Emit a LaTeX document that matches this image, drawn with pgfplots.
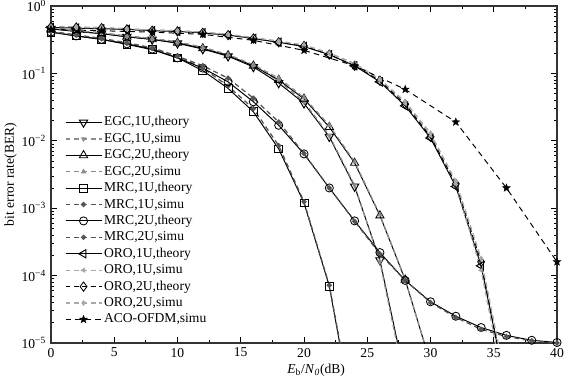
\documentclass[border=0pt]{standalone}
\usepackage{fontspec}
\setmainfont{Liberation Serif}
\usepackage{pgfplots}
\pgfplotsset{compat=1.18}
\usetikzlibrary{plotmarks}
\definecolor{egcgray}{gray}{0.55}
\definecolor{mrcgray}{gray}{0.33}
\definecolor{orogray}{gray}{0.66}
\pgfdeclareplotmark{fivestar}{%
  \pgfpathmoveto{\pgfpointpolar{90}{\pgfplotmarksize}}%
  \pgfpathlineto{\pgfpointpolar{126}{0.42\pgfplotmarksize}}%
  \pgfpathlineto{\pgfpointpolar{162}{\pgfplotmarksize}}%
  \pgfpathlineto{\pgfpointpolar{198}{0.42\pgfplotmarksize}}%
  \pgfpathlineto{\pgfpointpolar{234}{\pgfplotmarksize}}%
  \pgfpathlineto{\pgfpointpolar{270}{0.42\pgfplotmarksize}}%
  \pgfpathlineto{\pgfpointpolar{306}{\pgfplotmarksize}}%
  \pgfpathlineto{\pgfpointpolar{342}{0.42\pgfplotmarksize}}%
  \pgfpathlineto{\pgfpointpolar{18}{\pgfplotmarksize}}%
  \pgfpathlineto{\pgfpointpolar{54}{0.42\pgfplotmarksize}}%
  \pgfpathclose\pgfusepathqfillstroke}
\begin{document}
\begin{tikzpicture}[font=\fontsize{9.7}{11.7}\selectfont]
\begin{axis}[
  scale only axis, width=361.4pt, height=240.7pt,
  at={(0,0)}, anchor=south west,
  xmin=0, xmax=40, ymode=log, ymin=1e-5, ymax=1,
  xtick={0,5,...,40}, minor x tick num=1,
  yticklabels={10\textsuperscript{−5},10\textsuperscript{−4},10\textsuperscript{−3},10\textsuperscript{−2},10\textsuperscript{−1},10\textsuperscript{0}},
  ytick={1e-5,1e-4,1e-3,1e-2,1e-1,1},
  minor ytick={2e-5,3e-5,4e-5,5e-5,6e-5,7e-5,8e-5,9e-5,2e-4,3e-4,4e-4,5e-4,6e-4,7e-4,8e-4,9e-4,2e-3,3e-3,4e-3,5e-3,6e-3,7e-3,8e-3,9e-3,2e-2,3e-2,4e-2,5e-2,6e-2,7e-2,8e-2,9e-2,0.2,0.3,0.4,0.5,0.6,0.7,0.8,0.9},
  tick align=inside, major tick length=4pt, minor tick length=2pt,
  axis line style={line width=0.9pt, black!80},
  every tick/.style={black, line width=0.6pt},
  xticklabel style={/pgf/number format/assume math mode=true},
  tick label style={font=\fontsize{9.7}{11.7}\selectfont},
  xlabel={\textit{E}\textsubscript{b}/\textit{N}\textsubscript{\textit{0}}(dB)},
  ylabel={bit error rate(BER)},
  every axis x label/.style={at={(axis description cs:0.524,-0.08)}, anchor=center},
  every axis y label/.style={at={(axis description cs:-0.08,0.5)}, rotate=90, anchor=center},
  legend cell align=left,
  legend style={draw=none, fill=none, at={(0.027,0.045)}, anchor=south west,
    row sep=0pt, inner sep=0pt,
    nodes={text height=7pt, text depth=2pt, inner sep=1.36pt},
    font=\fontsize{9.7}{11.7}\selectfont},
  legend image code/.code={\draw[mark repeat=2, mark phase=2, #1] plot coordinates {(0pt,0pt) (12.85pt,0pt) (25.7pt,0pt)};},
  theory/.style={black, line width=0.7pt, mark options={solid, fill=white, line width=0.6pt}},
  simu/.style={line width=0.9pt, dash pattern=on 3.5pt off 2.5pt, mark size=1.4pt},
]
% EGC,1U,theory
\addplot[theory, mark=triangle, mark size=3.4pt, mark options={rotate=180, solid, fill=white}] coordinates {
(0,0.46)(2,0.42)(4,0.39)(6,0.35)(8,0.32)(10,0.28)(12,0.23)(14,0.18)(16,0.125)(18,0.072)(20,0.036)(22,0.0115)(24,2.1e-3)(26,1.7e-4)(28,3e-6)};
\addlegendentry{EGC,1U,theory}
% EGC,1U,simu
\addplot[simu, egcgray, mark=triangle*, mark options={rotate=180, solid, fill=egcgray}] coordinates {
(0,0.47)(2,0.43)(4,0.40)(6,0.36)(8,0.33)(10,0.29)(12,0.24)(14,0.19)(16,0.13)(18,0.078)(20,0.038)(22,0.012)(24,2.2e-3)(26,1.6e-4)(28,2.5e-6)};
\addlegendentry{EGC,1U,simu}
% EGC,2U,theory
\addplot[theory, mark=triangle, mark size=3.4pt] coordinates {
(0,0.46)(2,0.42)(4,0.39)(6,0.35)(8,0.32)(10,0.285)(12,0.235)(14,0.185)(16,0.13)(18,0.08)(20,0.042)(22,0.016)(24,4.7e-3)(26,7.8e-4)(28,8.7e-5)(30,5e-6)};
\addlegendentry{EGC,2U,theory}
% EGC,2U,simu
\addplot[simu, egcgray, mark=triangle*, mark options={solid, fill=egcgray}] coordinates {
(0,0.47)(2,0.43)(4,0.40)(6,0.36)(8,0.33)(10,0.295)(12,0.245)(14,0.19)(16,0.135)(18,0.085)(20,0.044)(22,0.017)(24,4.9e-3)(26,8e-4)(28,8.8e-5)(30,5e-6)};
\addlegendentry{EGC,2U,simu}
% MRC,1U,theory
\addplot[theory, mark=square, mark size=2.8pt] coordinates {
(0,0.41)(2,0.36)(4,0.32)(6,0.27)(8,0.225)(10,0.17)(12,0.11)(14,0.06)(16,0.027)(18,0.0076)(20,1.2e-3)(22,7e-5)(24,6e-7)};
\addlegendentry{MRC,1U,theory}
% MRC,1U,simu
\addplot[simu, mrcgray, mark=*, mark options={solid, fill=mrcgray}] coordinates {
(0,0.42)(2,0.37)(4,0.33)(6,0.28)(8,0.235)(10,0.18)(12,0.12)(14,0.065)(16,0.03)(18,0.0085)(20,1.25e-3)(22,7.2e-5)(24,7e-7)};
\addlegendentry{MRC,1U,simu}
% MRC,2U,theory
\addplot[theory, mark=o, mark size=2.9pt] coordinates {
(0,0.41)(2,0.36)(4,0.32)(6,0.275)(8,0.23)(10,0.17)(12,0.12)(14,0.075)(16,0.038)(18,0.017)(20,6.4e-3)(22,2e-3)(24,6.5e-4)(26,2.2e-4)(28,8.5e-5)(30,4.1e-5)(32,2.5e-5)(34,1.7e-5)(36,1.3e-5)(38,1.1e-5)(40,1.02e-5)};
\addlegendentry{MRC,2U,theory}
% MRC,2U,simu
\addplot[simu, mrcgray, mark=*, mark options={solid, fill=mrcgray}] coordinates {
(0,0.42)(2,0.37)(4,0.33)(6,0.285)(8,0.24)(10,0.18)(12,0.13)(14,0.085)(16,0.043)(18,0.019)(20,6.5e-3)(22,2e-3)(24,6.4e-4)(26,2.1e-4)(28,8.5e-5)(30,4e-5)(32,2.4e-5)(34,1.6e-5)(36,1.25e-5)(38,1.08e-5)(40,1e-5)};
\addlegendentry{MRC,2U,simu}
% ORO,1U,theory
\addplot[theory, mark=triangle, mark size=3.4pt, mark options={rotate=90, solid, fill=white}] coordinates {
(0,0.48)(2,0.47)(4,0.46)(6,0.45)(8,0.43)(10,0.42)(12,0.40)(14,0.37)(16,0.33)(18,0.29)(20,0.25)(22,0.19)(24,0.13)(26,0.075)(28,0.033)(30,0.011)(32,2.1e-3)(34,1.4e-4)(36,2e-6)};
\addlegendentry{ORO,1U,theory}
% ORO,1U,simu
\addplot[simu, orogray, mark=triangle*, mark options={rotate=90, solid, fill=orogray}] coordinates {
(0,0.49)(2,0.48)(4,0.47)(6,0.46)(8,0.44)(10,0.43)(12,0.41)(14,0.38)(16,0.34)(18,0.30)(20,0.26)(22,0.20)(24,0.14)(26,0.08)(28,0.036)(30,0.012)(32,2.3e-3)(34,1.2e-4)(36,1.5e-6)};
\addlegendentry{ORO,1U,simu}
% ORO,2U,theory
\addplot[theory, dash pattern=on 3.5pt off 2.5pt, mark=diamond, mark size=3.3pt] coordinates {
(0,0.49)(2,0.48)(4,0.47)(6,0.45)(8,0.43)(10,0.42)(12,0.40)(14,0.37)(16,0.33)(18,0.29)(20,0.255)(22,0.19)(24,0.13)(26,0.078)(28,0.035)(30,0.0115)(32,2.3e-3)(34,1.6e-4)(36,2e-6)};
\addlegendentry{ORO,2U,theory}
% ORO,2U,simu
\addplot[simu, orogray, mark=diamond*, mark options={solid, fill=orogray}] coordinates {
(0,0.50)(2,0.49)(4,0.48)(6,0.46)(8,0.44)(10,0.43)(12,0.41)(14,0.38)(16,0.34)(18,0.30)(20,0.265)(22,0.20)(24,0.14)(26,0.082)(28,0.038)(30,0.013)(32,2.5e-3)(34,1.8e-4)(36,2.5e-6)};
\addlegendentry{ORO,2U,simu}
% ACO-OFDM,simu
\addplot[black, line width=0.7pt, dash pattern=on 4pt off 3pt, mark=fivestar, mark size=2.9pt, mark options={solid, fill=black, line width=0.3pt}] coordinates {
(0,0.45)(4,0.43)(8,0.41)(12,0.38)(16,0.31)(20,0.22)(24,0.13)(28,0.058)(32,0.019)(36,2e-3)(40,1.6e-4)};
\addlegendentry{ACO-OFDM,simu}
\end{axis}
\pgfresetboundingbox
\path[use as bounding box] (-36.4pt,-27.1pt) rectangle (367.8pt,245pt);
\end{tikzpicture}
\end{document}
